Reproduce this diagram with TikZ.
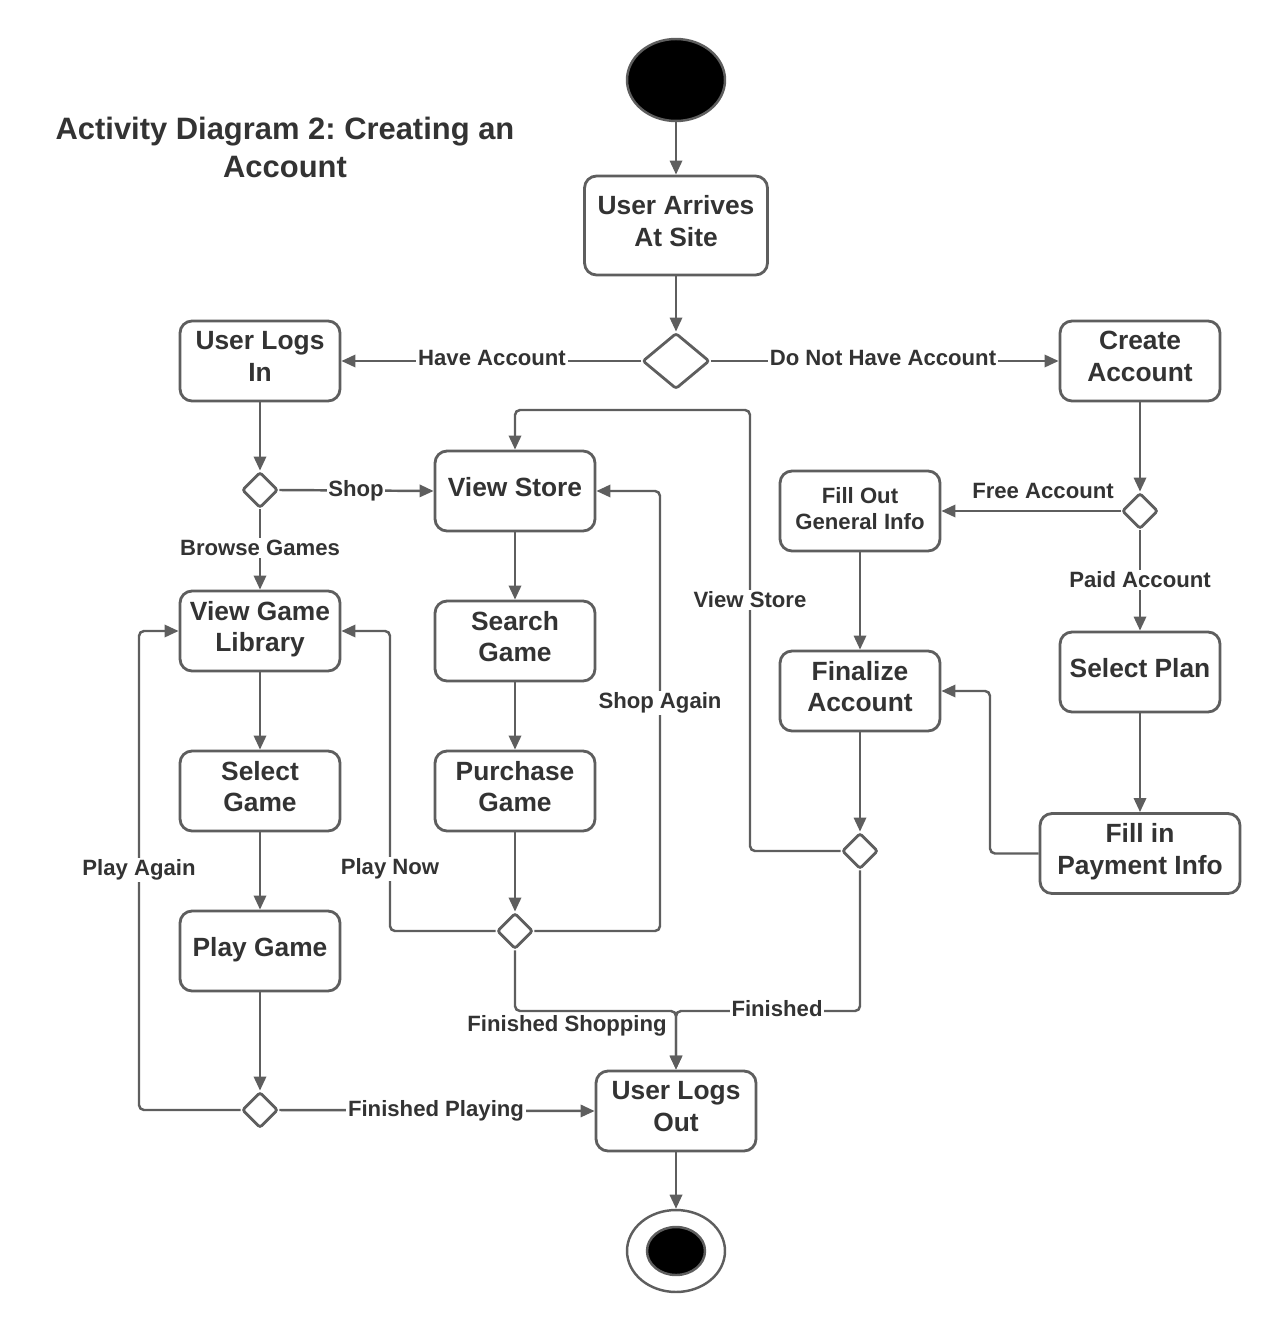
\documentclass[tikz,border=0pt]{standalone}
\usepackage{fontspec}
\setmainfont{Liberation Sans}
\frenchspacing
\usetikzlibrary{arrows.meta,shapes.geometric}
\definecolor{ln}{HTML}{5E5E5E}
\definecolor{tx}{HTML}{333333}
\tikzset{
  box/.style={draw=ln, line width=1.6pt, rounded corners=0.24cm, fill=white,
    minimum width=3.2cm, minimum height=1.6cm, inner sep=0pt, align=center,
    text depth=5pt,
    text=tx, font=\fontsize{15}{18}\selectfont\bfseries},
  dec/.style={draw=ln, line width=1.6pt, shape=diamond, fill=white, inner sep=0pt,
    rounded corners=1.5pt, minimum width=0.72cm, minimum height=0.72cm},
  arr/.style={draw=ln, line width=1.4pt, rounded corners=0.1cm,
    -{Triangle[length=8pt,width=7pt]}},
  lbl/.style={fill=white, inner sep=1pt, text=tx, font=\fontsize{12.6}{15}\selectfont\bfseries},
}
\begin{document}
\begin{tikzpicture}[x=0.02cm,y=-0.02cm]
\useasboundingbox (0,0) rectangle (1280,1331);
% title
\node[text=tx, align=center, font=\fontsize{17.6}{21.2}\selectfont\bfseries] (title) at (285,147.5) {Activity Diagram 2: Creating an\\Account};
% start / end
\node[ellipse, draw=ln, line width=1.4pt, fill=black, minimum width=1.96cm, minimum height=1.64cm, inner sep=0pt] (start) at (676,80) {};
\node[ellipse, draw=ln, line width=1.4pt, fill=white, minimum width=1.96cm, minimum height=1.64cm, inner sep=0pt] (end) at (676,1251) {};
\node[ellipse, draw=ln, line width=1.4pt, fill=black, minimum width=1.16cm, minimum height=0.96cm, inner sep=0pt] (endin) at (676,1251) {};
% boxes
\node[box, minimum width=3.66cm, minimum height=1.98cm] (uas) at (676,225.5) {User Arrives\\At Site};
\node[dec, minimum width=1.34cm, minimum height=1.12cm] (d1) at (676,361) {};
\node[box] (uli) at (260,361) {User Logs\\In};
\node[box] (ca) at (1140,361) {Create\\Account};
\node[dec] (d2) at (260,490) {};
\node[box] (vs) at (515,491) {View Store};
\node[box] (vgl) at (260,631) {View Game\\Library};
\node[box] (sg) at (515,641) {Search\\Game};
\node[box] (pg) at (515,791) {Purchase\\Game};
\node[box] (sel) at (260,791) {Select\\Game};
\node[box] (play) at (260,951) {Play Game};
\node[dec] (d3) at (515,931) {};
\node[dec] (d4) at (260,1110) {};
\node[box] (ulo) at (676,1111) {User Logs\\Out};
\node[box, text depth=3pt, font=\fontsize{12.6}{15}\selectfont\bfseries] (fog) at (860,511) {Fill Out\\General Info};
\node[dec] (d5) at (1140,511) {};
\node[box] (sp) at (1140,672) {Select Plan};
\node[box, minimum width=4cm] (pay) at (1140,853.5) {Fill in\\Payment Info};
\node[box] (fin) at (860,691) {Finalize\\Account};
\node[dec] (d6) at (860,851) {};
% connectors
\draw[arr] (start) -- (uas);
\draw[arr] (uas) -- (d1);
\draw[arr] (d1.west) -- (uli.east);
\draw[arr] (d1.east) -- (ca.west);
\draw[arr] (uli) -- (d2);
\draw[arr] (d2.east) -- (vs.west);
\draw[arr] (d2.south) -- (vgl.north);
\draw[arr] (vs) -- (sg);
\draw[arr] (sg) -- (pg);
\draw[arr] (pg) -- (d3);
\draw[arr] (d3.west) -- (390,931) -- (390,631) -- (vgl.east);
\draw[arr] (d3.east) -- (660,931) -- (660,491) -- (vs.east);
\draw[arr] (d3.south) -- (515,1011) -- (676,1011) -- (ulo.north);
\draw[arr] (d6.south) -- (860,1011) -- (676,1011) -- (ulo.north);
\draw[arr] (d6.west) -- (750,851) -- (750,410) -- (515,410) -- (vs.north);
\draw[arr] (vgl) -- (sel);
\draw[arr] (sel) -- (play);
\draw[arr] (play) -- (d4);
\draw[arr] (d4.west) -- (139,1110) -- (139,631) -- (vgl.west);
\draw[arr] (d4.east) -- (ulo.west);
\draw[arr] (ulo) -- (end);
\draw[arr] (ca) -- (d5);
\draw[arr] (d5.west) -- (fog.east);
\draw[arr] (d5.south) -- (sp.north);
\draw[arr] (sp) -- (pay);
\draw[arr] (pay.west) -- (990,853.5) -- (990,691) -- (fin.east);
\draw[arr] (fog) -- (fin);
\draw[arr] (fin) -- (d6);
% labels
\node[lbl] (l1) at (492,358) {Have Account};
\node[lbl] (l2) at (883,358) {Do Not Have Account};
\node[lbl] (l3) at (356,491) {Shop};
\node[lbl] (l4) at (260,548) {Browse Games};
\node[lbl] (l5) at (390,869) {Play Now};
\node[lbl] (l6) at (660,703) {Shop Again};
\node[lbl, fill=none] (l7) at (567,1026) {Finished Shopping};
\node[lbl] (l8) at (777,1009) {Finished};
\node[lbl] (l9) at (750,600) {View Store};
\node[lbl] (l10) at (139,870) {Play Again};
\node[lbl] (l11) at (436,1111) {Finished Playing};
\node[lbl] (l12) at (1043,491) {Free Account};
\node[lbl] (l13) at (1140,580) {Paid Account};
\end{tikzpicture}
\end{document}
